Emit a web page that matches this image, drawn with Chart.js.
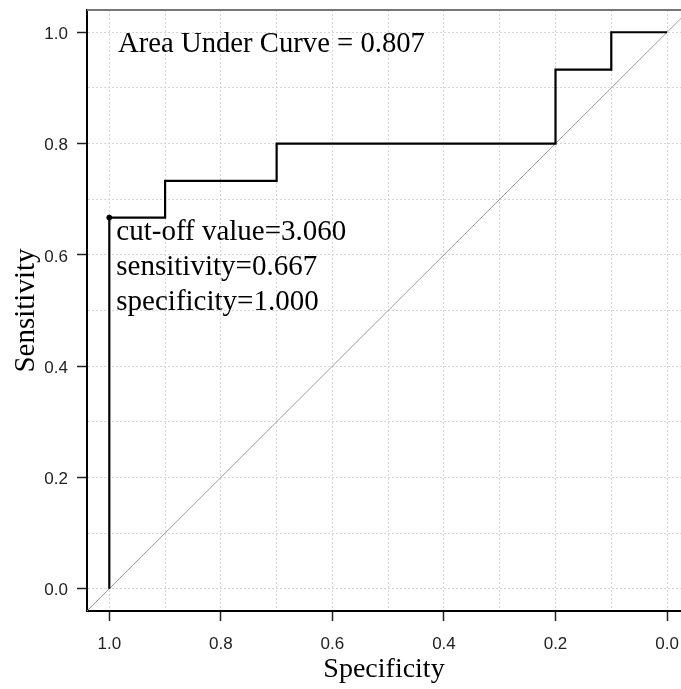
<!DOCTYPE html>
<html>
<head>
<meta charset="utf-8">
<title>ROC curve</title>
<script src="https://cdn.jsdelivr.net/npm/chart.js@4.4.1/dist/chart.umd.min.js"></script>
<style>
  html, body { margin: 0; padding: 0; background: #fff; overflow: hidden; }
  #rocChart { display: block; }
</style>
</head>
<body>
<canvas id="rocChart" width="681" height="689"></canvas>
<script>
// ROC curve, specificity runs right to left
const specificity = [1.0, 1.0, 0.9, 0.9, 0.7, 0.7, 0.2, 0.2, 0.1, 0.1, 0.0];
const sensitivity = [0.0, 0.667, 0.667, 0.733, 0.733, 0.8, 0.8, 0.933, 0.933, 1.0, 1.0];

// chance line, corner to corner
const diagSpecificity = [1.04, -0.04];
const diagSensitivity = [-0.04, 1.04];

// best cut-off point
const cutoffSpecificity = [1.0];
const cutoffSensitivity = [0.667];
const cutoffLines = ["cut-off value=3.060", "sensitivity=0.667", "specificity=1.000"];
const aucLabel = "Area Under Curve = 0.807";

// the original plot box is cut off on the right, so x stops short of -0.04
const xMin = -0.025;
const xMax = 1.04;
const yMin = -0.04;
const yMax = 1.04;
const gridValues = [0, 0.1, 0.2, 0.3, 0.4, 0.5, 0.6, 0.7, 0.8, 0.9, 1.0];
const labelValues = [0, 0.2, 0.4, 0.6, 0.8, 1.0];

const toPoints = (xs, ys) => xs.map((x, i) => ({ x: x, y: ys[i] }));
const isMajor = (v) => labelValues.some((t) => Math.abs(t - v) < 1e-9);

// axis settings shared by both scales
const makeAxis = (extra) => Object.assign({
  type: "linear",
  afterBuildTicks: (scale) => {
    scale.ticks = gridValues.map((v) => ({ value: v }));
  },
  grid: {
    color: "#d6d6d6",
    lineWidth: 1,
    tickLength: 10,
    tickWidth: 1.5,
    tickBorderDash: [],
    tickColor: (ctx) => (ctx.tick && isMajor(ctx.tick.value) ? "#222" : "rgba(0,0,0,0)"),
  },
  border: { display: true, color: "#000", width: 2, dash: [2, 2] },
}, extra);

const tickFont = { family: "Liberation Sans", size: 17 };

const rocDecorations = {
  id: "rocDecorations",
  afterDatasetsDraw(chart) {
    const { ctx, chartArea, scales } = chart;
    ctx.save();
    ctx.fillStyle = "#000";
    ctx.textAlign = "left";
    ctx.textBaseline = "alphabetic";

    // AUC note in the top left corner
    ctx.font = '28.7px "Liberation Serif"';
    ctx.fillText(aucLabel, chartArea.left + 31, chartArea.top + 42);

    // cut-off details under the marked point
    const px = scales.x.getPixelForValue(cutoffSpecificity[0]);
    const py = scales.y.getPixelForValue(cutoffSensitivity[0]);
    ctx.font = '29px "Liberation Serif"';
    cutoffLines.forEach((line, i) => {
      ctx.fillText(line, px + 7, py + 22 + i * 35);
    });
    ctx.restore();
  },
  afterDraw(chart) {
    // grey frame line along the top
    const { ctx, chartArea } = chart;
    ctx.save();
    ctx.strokeStyle = "#777";
    ctx.lineWidth = 2;
    ctx.beginPath();
    ctx.moveTo(chartArea.left, chartArea.top);
    ctx.lineTo(chartArea.right, chartArea.top);
    ctx.stroke();
    ctx.restore();
  },
};

const ctx = document.getElementById("rocChart").getContext("2d");
const rocChart = new Chart(ctx, {
  type: "line",
  data: {
    datasets: [
      {
        label: "cut-off",
        type: "scatter",
        data: toPoints(cutoffSpecificity, cutoffSensitivity),
        pointRadius: 2.5,
        pointBackgroundColor: "#000",
        pointBorderColor: "#000",
        order: 0,
      },
      {
        label: "ROC",
        data: toPoints(specificity, sensitivity),
        borderColor: "#000",
        borderWidth: 2.2,
        borderJoinStyle: "miter",
        pointRadius: 0,
        fill: false,
        tension: 0,
        order: 1,
      },
      {
        label: "chance",
        data: toPoints(diagSpecificity, diagSensitivity),
        borderColor: "#9c9c9c",
        borderWidth: 1,
        pointRadius: 0,
        fill: false,
        order: 2,
      },
    ],
  },
  options: {
    responsive: false,
    animation: false,
    events: [],
    layout: { autoPadding: false, padding: { left: 0, top: 10, right: 0, bottom: 0 } },
    plugins: {
      legend: { display: false },
      tooltip: { enabled: false },
    },
    scales: {
      x: makeAxis({
        min: xMin,
        max: xMax,
        reverse: true,
        afterFit: (scale) => {
          scale.height = 78;
          scale.paddingLeft = 0;
          scale.paddingRight = 0;
        },
        ticks: {
          autoSkip: false,
          maxRotation: 0,
          color: "#222",
          font: tickFont,
          padding: 13,
          callback: (value) => (isMajor(value) ? value.toFixed(1) : ""),
        },
        title: {
          display: true,
          text: "Specificity",
          color: "#000",
          font: { family: "Liberation Serif", size: 28 },
          padding: { top: 0, bottom: 3 },
        },
      }),
      y: makeAxis({
        min: yMin,
        max: yMax,
        afterFit: (scale) => {
          scale.width = 87;
          scale.paddingTop = 0;
          scale.paddingBottom = 0;
        },
        ticks: {
          autoSkip: false,
          color: "#222",
          font: tickFont,
          padding: 9,
          labelOffset: 2,
          callback: (value) => (isMajor(value) ? value.toFixed(1) : ""),
        },
        title: {
          display: true,
          text: "Sensitivity",
          color: "#000",
          font: { family: "Liberation Serif", size: 29 },
          padding: { top: 9, bottom: 0 },
        },
      }),
    },
  },
  plugins: [rocDecorations],
});
</script>
</body>
</html>
